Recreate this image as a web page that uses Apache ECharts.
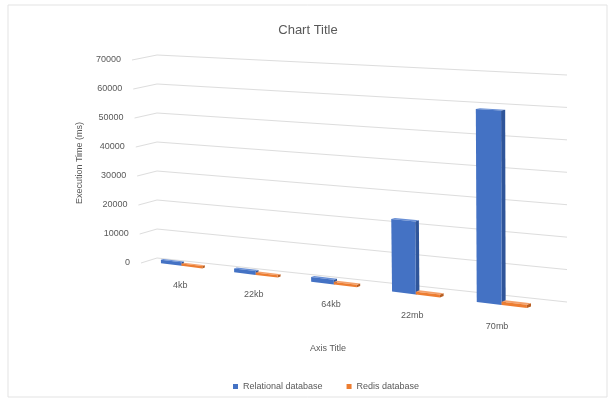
<!DOCTYPE html>
<html>
<head>
<meta charset="utf-8">
<script src="https://cdn.jsdelivr.net/npm/echarts@6/dist/echarts.min.js"></script>
<style>
  html, body { margin: 0; padding: 0; background: #ffffff; }
  #chart { width: 616px; height: 403px; }
</style>
</head>
<body>
<div id="chart"></div>
<script>
// Execution time per payload size (ms)
const categories = ['4kb', '22kb', '64kb', '22mb', '70mb'];
const relational = [1200, 1300, 1500, 23000, 59500];
const redis = [800, 800, 800, 900, 1000];
const yTicks = [0, 10000, 20000, 30000, 40000, 50000, 60000, 70000];
const yMax = 70000;

const FONT = '"Liberation Sans", Arial, sans-serif';
const TEXT = '#595959';

// Perspective box: front (d=0) and back wall (d=1) planes, u runs left->right, f is height fraction
const VIEW = {
  frontLeft: 132, backLeft: 157, frontWidth: 405, backWidth: 410,
  frontBaseL: 263, frontBaseR: 314, backBaseL: 258, backBaseR: 302,
  frontSpanL: 203, frontSpanR: 234, backSpanL: 203, backSpanR: 227,
  edgeLean: 9, warp: 0.12
};
function lerp(a, b, t) { return a + (b - a) * t; }
function project(u, f, d) {
  const t = u * (1 + VIEW.warp * (u - 1));
  const x0 = lerp(VIEW.frontLeft, VIEW.backLeft, d);
  const w = lerp(VIEW.frontWidth, VIEW.backWidth, d);
  const baseL = lerp(VIEW.frontBaseL, VIEW.backBaseL, d);
  const baseR = lerp(VIEW.frontBaseR, VIEW.backBaseR, d);
  const spanL = lerp(VIEW.frontSpanL, VIEW.backSpanL, d);
  const spanR = lerp(VIEW.frontSpanR, VIEW.backSpanR, d);
  const x = x0 + w * t + VIEW.edgeLean * (1 - f) * (1 - d) * (1 - t);
  const y = lerp(baseL, baseR, t) - f * lerp(spanL, spanR, t);
  return [x, y];
}
function toUF(cs, pt) {
  return [(pt[0] - cs.x) / cs.width, (cs.y + cs.height - pt[1]) / cs.height];
}

// Value gridlines on the side and back walls, with their tick labels
function wallRenderer(params, api) {
  const cs = params.coordSys;
  const v = api.value(1);
  const f = toUF(cs, api.coord([0, v]))[1];
  const a = project(0, f, 0), b = project(0, f, 1), c = project(1, f, 1);
  return {
    type: 'group',
    children: [
      { type: 'polyline', shape: { points: [a, b, c] },
        style: { stroke: '#dddddd', lineWidth: 1, fill: null } },
      { type: 'text',
        style: { x: a[0] - 11, y: a[1], text: String(v), align: 'right', verticalAlign: 'middle',
                 fill: TEXT, font: '9px ' + FONT } }
    ]
  };
}

// Category labels along the front edge of the floor
function categoryRenderer(params, api) {
  const cs = params.coordSys;
  const i = api.value(0);
  const u = toUF(cs, api.coord([i, 0]))[0];
  const p = project(u, 0, 0);
  return { type: 'text',
    style: { x: p[0] + 4, y: p[1] + 18, text: categories[i], align: 'center', verticalAlign: 'middle',
             fill: TEXT, font: '9px ' + FONT } };
}

// 3D column: side, top and front faces
function barRenderer(slot, colors) {
  return function (params, api) {
    const cs = params.coordSys;
    const i = api.value(0), v = api.value(1);
    const top = api.coord([i, v]);
    const base = api.coord([i, 0]);
    const band = api.size([1, 0])[0];
    const bw = band / 3.5;
    const left = top[0] + (slot < 0 ? -bw : 0);
    const u0 = (left - cs.x) / cs.width;
    const u1 = (left + bw - cs.x) / cs.width;
    const f = (base[1] - top[1]) / cs.height;
    const dF = 0.3, dB = 0.44;
    const front = [project(u0, 0, dF), project(u1, 0, dF), project(u1, f, dF), project(u0, f, dF)];
    const topFace = [project(u0, f, dF), project(u1, f, dF), project(u1, f, dB), project(u0, f, dB)];
    const side = [project(u1, 0, dF), project(u1, 0, dB), project(u1, f, dB), project(u1, f, dF)];
    return {
      type: 'group',
      children: [
        { type: 'polygon', shape: { points: side }, style: { fill: colors.side } },
        { type: 'polygon', shape: { points: topFace }, style: { fill: colors.top } },
        { type: 'polygon', shape: { points: front }, style: { fill: colors.front } }
      ]
    };
  };
}

const BLUE = { front: '#4472C4', top: '#6a90d6', side: '#2f559a' };
const ORANGE = { front: '#ED7D31', top: '#f3a16c', side: '#b85f22' };

const chart = echarts.init(document.getElementById('chart'), null, { renderer: 'canvas' });
chart.setOption({
  animation: false,
  backgroundColor: '#ffffff',
  title: {
    text: 'Chart Title', left: 'center', top: 19,
    textStyle: { fontFamily: FONT, fontSize: 13, fontWeight: 'normal', color: TEXT }
  },
  legend: {
    data: ['Relational database', 'Redis database'],
    left: 228, top: 377, icon: 'rect', itemWidth: 5, itemHeight: 5, itemGap: 24,
    textStyle: { fontFamily: FONT, fontSize: 9, color: TEXT }
  },
  grid: { left: 133, right: 49, top: 60, bottom: 140 },
  xAxis: { type: 'category', data: categories, show: false },
  yAxis: { type: 'value', min: 0, max: yMax, interval: 10000, show: false },
  graphic: [
    { type: 'rect', shape: { x: 8, y: 5, width: 599, height: 392 },
      style: { fill: null, stroke: '#e3e3e3', lineWidth: 1 }, silent: true },
    { type: 'text', x: 80, y: 163, rotation: Math.PI / 2,
      style: { text: 'Execution Time (ms)', align: 'center', verticalAlign: 'middle',
               fill: TEXT, font: '9px ' + FONT } },
    { type: 'text', x: 328, y: 349,
      style: { text: 'Axis Title', align: 'center', verticalAlign: 'middle',
               fill: TEXT, font: '9px ' + FONT } }
  ],
  series: [
    { type: 'custom', name: 'walls', renderItem: wallRenderer, silent: true, z: 1,
      data: yTicks.map(v => [0, v]) },
    { type: 'custom', name: 'categories', renderItem: categoryRenderer, silent: true, z: 1,
      data: categories.map((c, i) => [i, 0]) },
    { type: 'custom', name: 'Relational database', renderItem: barRenderer(-1, BLUE), z: 2,
      itemStyle: { color: BLUE.front },
      data: relational.map((v, i) => [i, v]) },
    { type: 'custom', name: 'Redis database', renderItem: barRenderer(1, ORANGE), z: 3,
      itemStyle: { color: ORANGE.front },
      data: redis.map((v, i) => [i, v]) }
  ]
});
</script>
</body>
</html>
